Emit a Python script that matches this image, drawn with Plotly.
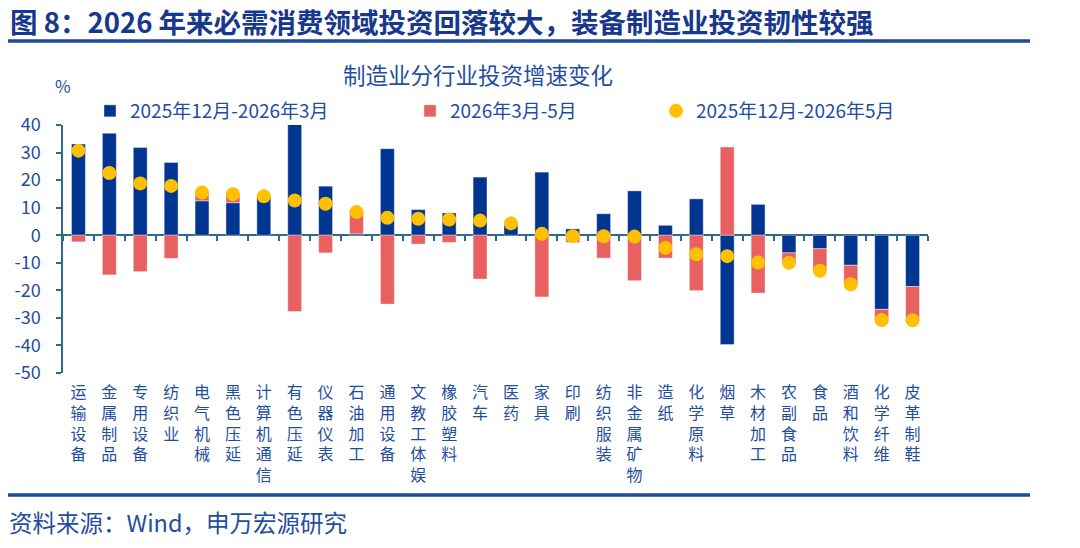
import plotly.graph_objects as go

categories = ["运输设备", "金属制品", "专用设备", "纺织业", "电气机械", "黑色压延", "计算机通信",
              "有色压延", "仪器仪表", "石油加工", "通用设备", "文教工体娱", "橡胶塑料", "汽车",
              "医药", "家具", "印刷", "纺织服装", "非金属矿物", "造纸", "化学原料", "烟草",
              "木材加工", "农副食品", "食品", "酒和饮料", "化学纤维", "皮革制鞋"]

dec_mar = [33.1, 37.0, 31.8, 26.4, 12.5, 11.8, 13.8, 40.3, 17.8, 0.5, 31.4, 9.3, 8.1, 21.1,
           3.8, 22.9, 2.3, 7.8, 16.1, 3.6, 13.2, -39.7, 11.2, -6.4, -4.9, -10.9, -26.9, -18.6]

mar_may = [-2.4, -14.4, -13.2, -8.4, 3.0, 3.0, 0.3, -27.7, -6.4, 8.4, -25.0, -3.2, -2.6, -15.9,
           0.5, -22.4, -2.6, -8.3, -16.5, -8.3, -20.1, 32.0, -21.0, -3.6, -8.0, -7.1, -4.3, -12.7]

dec_may = [30.7, 22.6, 18.8, 17.9, 15.5, 14.9, 14.1, 12.6, 11.4, 8.4, 6.3, 6.0, 5.7, 5.3,
           4.3, 0.5, -0.4, -0.4, -0.5, -4.6, -6.9, -7.6, -9.9, -10.0, -12.9, -17.8, -30.8, -30.9]

series_names = ["2025年12月-2026年3月", "2026年3月-5月", "2025年12月-2026年5月"]
y_ticks = [40, 30, 20, 10, 0, -10, -20, -30, -40, -50]
y_tick_text = ["40", "30", "20", "10", "0", "-10", "-20", "-30", "-40", "-50"]
y_min, y_max = -50, 40

W, H = 1080, 548
X0, X1 = 63, 928      # plot area left/right in px
Y0, Y1 = 125, 373     # plot area top/bottom in px

def px(x):
    return x / W

def py(y):
    return 1 - y / H

FONT = "Noto Sans CJK SC"
TXT = "#1F4E9E"
TITLE = "#17388C"
AXIS = "#2F6A8A"
BLUE = "#003591"
RED = "#E86060"
YEL = "#FFC000"

xdom = [px(X0), px(X1)]
ydom = [py(Y1), py(Y0)]
zero_pos = ydom[0] + (0 - y_min) / (y_max - y_min) * (ydom[1] - ydom[0])

vlabels = ["<br>".join(list(c)) for c in categories]

fig = go.Figure()
fig.add_trace(go.Bar(x=vlabels, y=dec_mar, name=series_names[0], marker_color=BLUE,
                     marker_line=dict(color="rgba(255,255,255,0.5)", width=0.8),
                     width=0.45, legend="legend", showlegend=True))
fig.add_trace(go.Bar(x=vlabels, y=mar_may, name=series_names[1], marker_color=RED,
                     marker_line=dict(color="rgba(255,255,255,0.5)", width=0.8),
                     width=0.45, legend="legend2", showlegend=True))
fig.add_trace(go.Scatter(x=vlabels, y=dec_may, name=series_names[2], mode="markers",
                         marker=dict(color=YEL, size=14), xaxis="x2", legend="legend3",
                         showlegend=True))

leg_common = dict(orientation="h", yanchor="middle", xanchor="left",
                  bgcolor="rgba(0,0,0,0)", borderwidth=0,
                  font=dict(family=FONT, size=19, color=TXT), itemwidth=30)

fig.update_layout(
    width=W, height=H,
    margin=dict(l=0, r=0, t=0, b=0, pad=0, autoexpand=False),
    paper_bgcolor="white", plot_bgcolor="white",
    barmode="relative",
    showlegend=True,
    font=dict(family=FONT, color=TXT),
    legend=dict(**leg_common, x=px(90), y=py(111)),
    legend2=dict(**leg_common, x=px(410), y=py(111)),
    legend3=dict(**leg_common, x=px(656), y=py(111)),
    xaxis=dict(domain=xdom, type="category", showline=False, ticks="", showgrid=False,
               zeroline=False, tickfont=dict(family=FONT, size=16, color=TXT), tickangle=0,
               ticklabelstandoff=8, range=[-0.5, len(categories) - 0.5]),
    xaxis2=dict(domain=xdom, type="category", overlaying="x", matches="x", anchor="free",
                position=zero_pos, showline=True, linecolor=AXIS, linewidth=2, ticks="outside",
                tickson="boundaries", ticklen=5, tickwidth=1.5, tickcolor=AXIS,
                showticklabels=False, showgrid=False, zeroline=False, layer="below traces"),
    yaxis=dict(domain=ydom, range=[y_min, y_max], tickvals=y_ticks, ticktext=y_tick_text,
               showline=True, linecolor=AXIS, linewidth=1.5, ticks="outside", ticklen=5,
               tickwidth=1.5, tickcolor=AXIS, showgrid=False, zeroline=False,
               ticklabelstandoff=12, tickfont=dict(family=FONT, size=18, color=TXT)),
    title=dict(text="<b>图 8：2026 年来必需消费领域投资回落较大，装备制造业投资韧性较强</b>",
               xref="paper", yref="paper", x=px(10), y=py(23),
               xanchor="left", yanchor="middle",
               font=dict(family=FONT, size=27.5, color=TITLE)),
)

fig.add_annotation(text="制造业分行业投资增速变化", xref="paper", yref="paper",
                   x=px(478), y=py(74), xanchor="center", yanchor="middle", showarrow=False,
                   font=dict(family=FONT, size=22.5, color=TXT))
fig.add_annotation(text="%", xref="paper", yref="paper", x=px(53), y=py(86),
                   xanchor="left", yanchor="middle", showarrow=False,
                   font=dict(family=FONT, size=17, color=TXT))
fig.add_annotation(text="资料来源：Wind，申万宏源研究", xref="paper", yref="paper",
                   x=px(7), y=py(522), xanchor="left", yanchor="middle", showarrow=False,
                   font=dict(family=FONT, size=23.5, color=TXT))

for yy in (41, 495):
    fig.add_shape(type="line", xref="paper", yref="paper", x0=px(8), x1=px(1030),
                  y0=py(yy), y1=py(yy), line=dict(color="#1E4A9C", width=3.5))

fig.write_html("out.html")
